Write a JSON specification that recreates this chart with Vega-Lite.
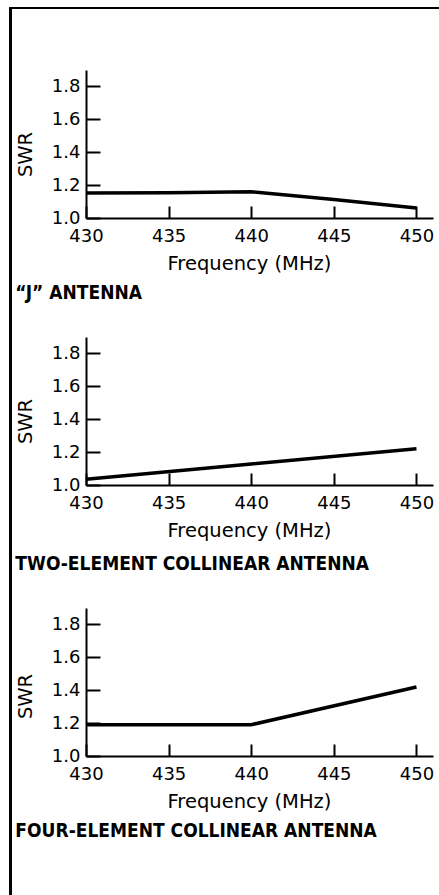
{
  "$schema": "https://vega.github.io/schema/vega-lite/v6.json",
  "background": "white",
  "padding": {"left": 9, "top": 7, "right": 0, "bottom": 0},
  "datasets": {
    "j": [
      {"freq": 430, "swr": 1.152},
      {"freq": 435, "swr": 1.153},
      {"freq": 440, "swr": 1.159},
      {"freq": 445, "swr": 1.112},
      {"freq": 450, "swr": 1.061}
    ],
    "two": [
      {"freq": 430, "swr": 1.035},
      {"freq": 440, "swr": 1.128},
      {"freq": 450, "swr": 1.22}
    ],
    "four": [
      {"freq": 430, "swr": 1.19},
      {"freq": 440, "swr": 1.19},
      {"freq": 450, "swr": 1.42}
    ]
  },
  "spacing": 0,
  "vconcat": [
    {
      "width": 430,
      "height": 2,
      "view": {"fill": "black", "stroke": null},
      "data": {"values": []},
      "mark": "rule",
      "encoding": {}
    },
    {
      "spacing": 3,
      "hconcat": [
        {
          "width": 3,
          "height": 886,
          "view": {"fill": "black", "stroke": null},
          "data": {"values": []},
          "mark": "rule",
          "encoding": {}
        },
        {
          "spacing": 34,
          "vconcat": [
            {
              "width": 10,
              "height": 27,
              "data": {"values": []},
              "mark": "rule",
              "encoding": {}
            },
            {
              "width": 347,
              "height": 148,
              "data": {"name": "j"},
              "mark": {"type": "line", "color": "black", "strokeWidth": 3.5},
              "encoding": {
                "x": {"field": "freq", "type": "quantitative", "scale": {"domain": [430, 451], "nice": false, "zero": false}, "axis": {"values": [430, 435, 440, 445, 450], "title": "Frequency (MHz)"}},
                "y": {"field": "swr", "type": "quantitative", "scale": {"domain": [1, 1.9], "nice": false, "zero": false}, "axis": {"values": [1, 1.2, 1.4, 1.6, 1.8], "format": ".1f", "title": "SWR", "titleY": 84}}
              },
              "title": {"text": "“J” ANTENNA", "orient": "bottom", "anchor": "start", "frame": "bounds", "offset": 11}
            },
            {
              "width": 347,
              "height": 148,
              "data": {"name": "two"},
              "mark": {"type": "line", "color": "black", "strokeWidth": 3.5},
              "encoding": {
                "x": {"field": "freq", "type": "quantitative", "scale": {"domain": [430, 451], "nice": false, "zero": false}, "axis": {"values": [430, 435, 440, 445, 450], "title": "Frequency (MHz)"}},
                "y": {"field": "swr", "type": "quantitative", "scale": {"domain": [1, 1.9], "nice": false, "zero": false}, "axis": {"values": [1, 1.2, 1.4, 1.6, 1.8], "format": ".1f", "title": "SWR", "titleY": 84}}
              },
              "title": {"text": "TWO-ELEMENT COLLINEAR ANTENNA", "orient": "bottom", "anchor": "start", "frame": "bounds", "offset": 15}
            },
            {
              "width": 347,
              "height": 148,
              "data": {"name": "four"},
              "mark": {"type": "line", "color": "black", "strokeWidth": 3.5},
              "encoding": {
                "x": {"field": "freq", "type": "quantitative", "scale": {"domain": [430, 451], "nice": false, "zero": false}, "axis": {"values": [430, 435, 440, 445, 450], "title": "Frequency (MHz)"}},
                "y": {"field": "swr", "type": "quantitative", "scale": {"domain": [1, 1.9], "nice": false, "zero": false}, "axis": {"values": [1, 1.2, 1.4, 1.6, 1.8], "format": ".1f", "title": "SWR", "titleY": 88}}
              },
              "title": {"text": "FOUR-ELEMENT COLLINEAR ANTENNA", "orient": "bottom", "anchor": "start", "frame": "bounds", "offset": 11}
            }
          ]
        }
      ]
    }
  ],
  "config": {
    "view": {"stroke": null},
    "axis": {
      "grid": false,
      "domainColor": "black",
      "domainWidth": 2,
      "tickColor": "black",
      "tickWidth": 2,
      "labelFont": "DejaVu Sans",
      "labelFontSize": 18,
      "labelColor": "black",
      "titleFont": "DejaVu Sans",
      "titleFontSize": 19.5,
      "titleFontWeight": "normal",
      "titleColor": "black"
    },
    "axisX": {"tickSize": -12, "labelPadding": 21, "titlePadding": 9, "labelFlush": false, "titleX": 163},
    "axisY": {"tickSize": -14, "labelPadding": 20, "titlePadding": 16},
    "title": {"font": "DejaVu Sans Condensed", "fontSize": 19, "fontWeight": "bold", "color": "black"}
  }
}
